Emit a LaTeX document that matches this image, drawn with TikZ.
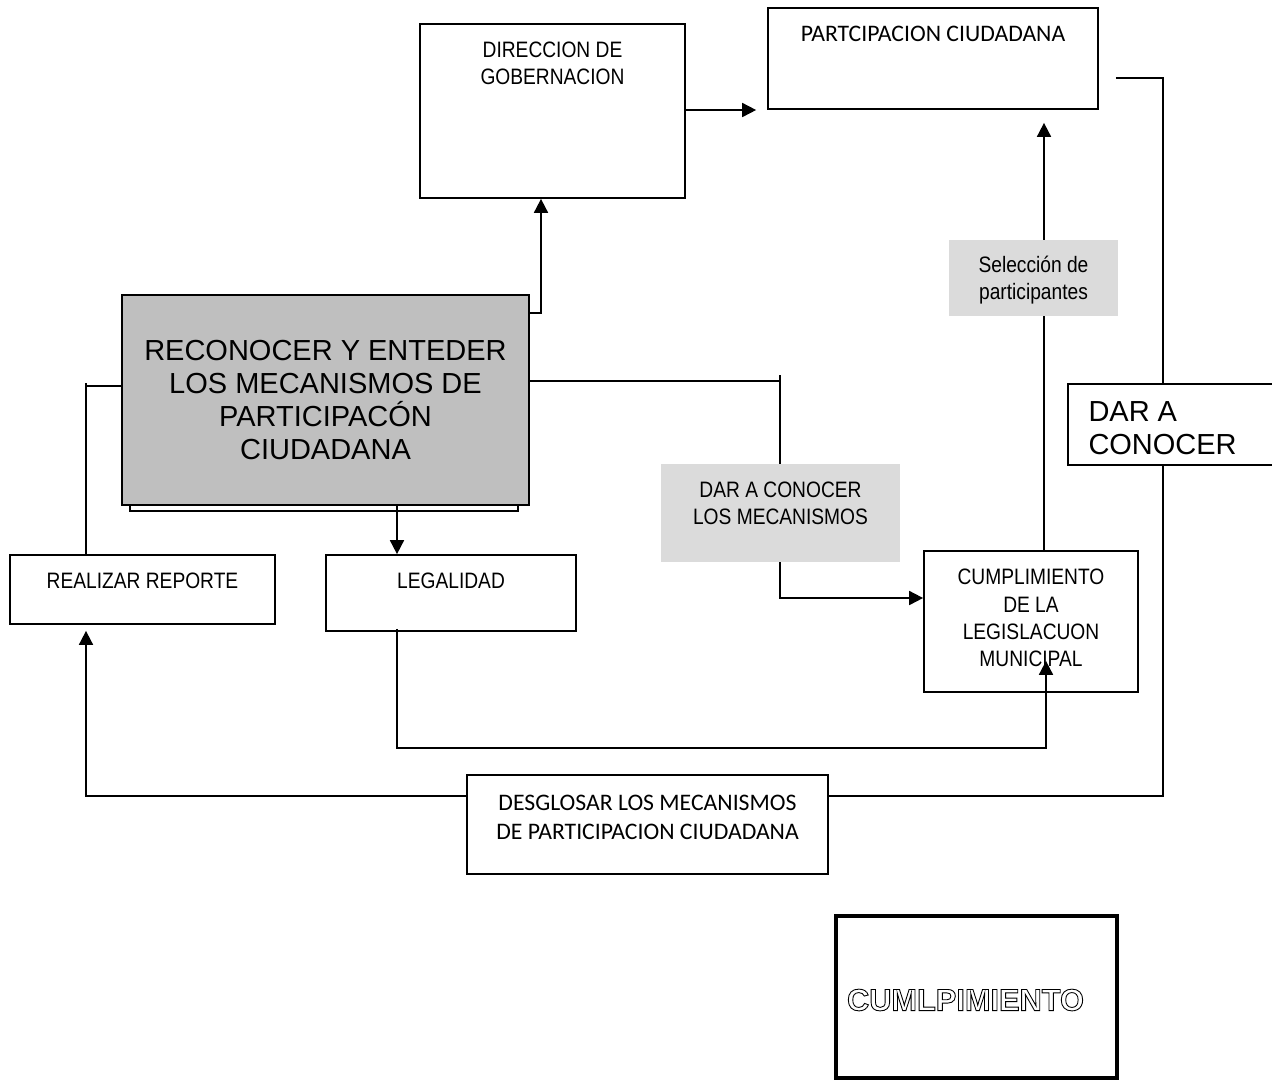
\documentclass[tikz,border=0pt]{standalone}
\usepackage{fontspec}
\setmainfont{Liberation Sans}
\newfontfamily\narrowfont[FakeStretch=0.86]{Liberation Sans}
\newfontfamily\calfont{Carlito}
\usetikzlibrary{arrows.meta,calc}

\tikzset{
  box/.style={draw, line width=1pt, inner sep=0pt, fill=white},
  greybox/.style={fill=black!14, inner sep=0pt},
  lbl/.style={align=center, inner sep=0pt, font=\narrowfont\fontsize{12.7}{15.5}\selectfont},
  cal/.style={align=center, inner sep=0pt, font=\calfont\fontsize{13.5}{16.4}\selectfont},
  big/.style={align=center, inner sep=0pt, font=\fontsize{16.5}{18.8}\selectfont},
  conn/.style={line width=1pt},
  arr/.style={conn, -{Triangle[length=0.28cm,width=0.28cm]}},
}

\begin{document}
\begin{tikzpicture}[x=0.02cm, y=-0.02cm]
\useasboundingbox (0,0) rectangle (1272,1080);

% boxes
\node[box, minimum width=5.30cm, minimum height=3.48cm] (dir) at (552.5,111) {};
\node[lbl] (dirlbl) at ($(dir.north)+(0,40)$) {DIRECCION DE\\GOBERNACION};
\node[box, minimum width=6.60cm, minimum height=2.02cm] (part) at (933,58.5) {};
\node[cal] (partlbl) at ($(part.north)+(0,27)$) {PARTCIPACION CIUDADANA};

\node[box, minimum width=7.76cm, minimum height=4.20cm] (mainsh) at (324,406) {};
\node[box, fill=black!25, big, minimum width=8.14cm, minimum height=4.20cm] (main) at (325.5,400)
  {RECONOCER Y ENTEDER\\LOS MECANISMOS DE\\PARTICIPACÓN\\CIUDADANA};

\node[box, minimum width=4.44cm, minimum height=1.62cm] (dac) at (1179,424.5) {};
\node[big, align=left, anchor=west] (daclbl) at ($(dac.west)+(21,4)$) {DAR A\\CONOCER};

\node[box, minimum width=5.30cm, minimum height=1.38cm] (rep) at (142.5,589.5) {};
\node[lbl] (replbl) at ($(rep.north)+(0,27)$) {REALIZAR REPORTE};
\node[box, minimum width=5.00cm, minimum height=1.52cm] (leg) at (451,593) {};
\node[lbl] (leglbl) at ($(leg.north)+(0,27)$) {LEGALIDAD};

\node[box, minimum width=4.28cm, minimum height=2.82cm] (cum) at (1031,621.5) {};
\node[lbl] (cumlbl) at ($(cum.north)+(0,68)$) {CUMPLIMIENTO\\DE LA\\LEGISLACUON\\MUNICIPAL};

\node[box, minimum width=7.22cm, minimum height=1.98cm] (des) at (647.5,824.5) {};
\node[cal] (deslbl) at ($(des.north)+(0,43)$) {DESGLOSAR LOS MECANISMOS\\DE PARTICIPACION CIUDADANA};

\node[box, line width=2.4pt, minimum width=5.62cm, minimum height=3.24cm] (clp) at (976.5,997) {};
\node[font=\fontsize{17.5}{20}\selectfont\bfseries] (clplbl) at ($(clp.center)+(-11,3)$)
  {\special{pdf:literal direct 1 Tr 0.5 w}CUMLPIMIENTO\special{pdf:literal direct 0 Tr}};

% connectors
\draw[arr] (main.east |- 0,313) -| (dir.south -| 541,0);
\draw[arr, shorten >=0.22cm] (dir.east |- 0,110) -- (part.west |- 0,110);
\draw[conn] (part.east |- 0,78) ++(17,0) -| (dac.north -| 1163,0);
\draw[conn] (dac.south -| 1163,0) |- (des.east |- 0,796);
\draw[arr, shorten >=0.12cm] (des.west |- 0,796) -| (rep.south -| 86,0);
\draw[conn] (rep.north -| 86,0) -- (86,383) (86,386) -- (main.west |- 0,386);
\draw[arr] (main.east |- 0,381) -- (780,381) (780,375) -- (780,598) -- (cum.west |- 0,598);
\draw[arr] (main.south -| 397,0) -- (leg.north -| 397,0);
\draw[arr] ($(leg.south -| 397,0)+(0,-3)$) |- (1046,748) -- ($(cum.south -| 1046,0)+(0,-32)$);
\draw[arr, shorten >=0.26cm] (cum.north -| 1044,0) -- (part.south -| 1044,0);

% grey labels over the lines
\node[greybox, minimum width=4.78cm, minimum height=1.96cm] (dacm) at (780.5,513) {};
\node[lbl] (dacmlbl) at ($(dacm.center)+(0,-10)$) {DAR A CONOCER\\LOS MECANISMOS};
\node[greybox, minimum width=3.38cm, minimum height=1.52cm] (sel) at (1033.5,278) {};
\node[lbl] (sellbl) at ($(sel.center)+(0,2)$) {Selección de\\participantes};
\end{tikzpicture}
\end{document}
